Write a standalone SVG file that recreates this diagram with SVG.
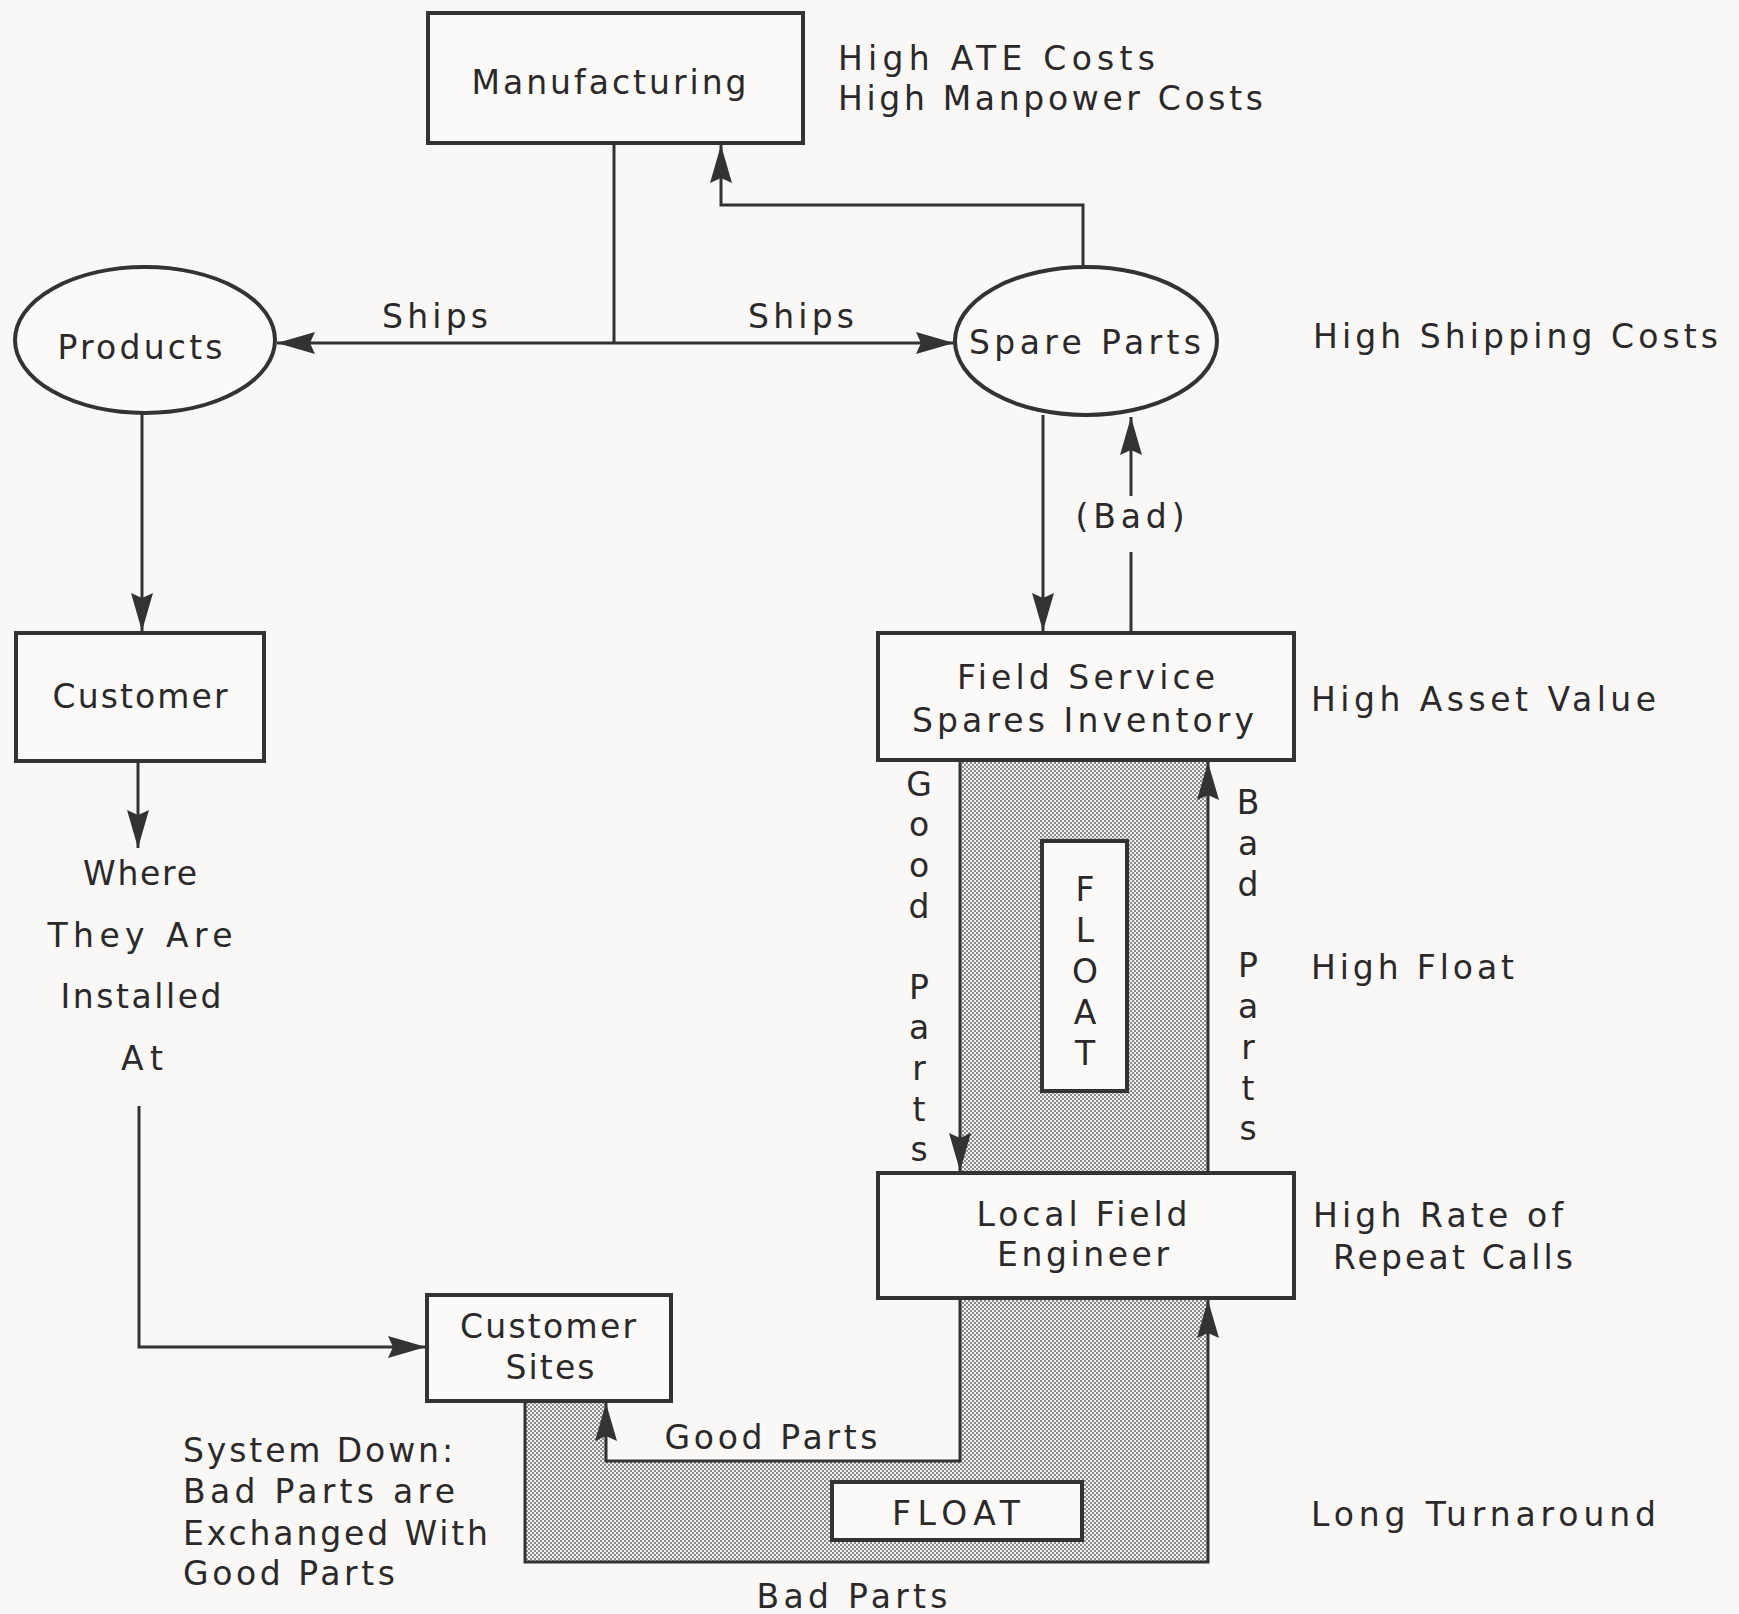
<svg xmlns="http://www.w3.org/2000/svg" width="1739" height="1614" viewBox="0 0 1739 1614">
<defs>
<style>
.t{font-family:"DejaVu Sans","Liberation Sans",sans-serif;font-size:33px;fill:#2b2929;}
.m{text-anchor:middle;}
.box{fill:#fbfaf8;stroke:#353232;stroke-width:4;}
.con{fill:none;stroke:#353232;stroke-width:3;}
</style>
<pattern id="dots" width="4" height="4" patternUnits="userSpaceOnUse">
<rect width="4" height="4" fill="#f2f1ef"/>
<circle cx="1" cy="1" r="1" fill="#6a6868"/>
<circle cx="3" cy="3" r="1" fill="#6a6868"/>
</pattern>
<marker id="arr" markerUnits="userSpaceOnUse" markerWidth="40" markerHeight="24" refX="38" refY="12" orient="auto">
<path d="M0,1 L38,12 L0,23 L5,12 z" fill="#353232"/>
</marker>
</defs>
<rect width="1739" height="1614" fill="#f9f8f6"/>

<g id="shading">
<rect x="960" y="760" width="248" height="413" fill="url(#dots)"/>
<polygon points="525,1401 606,1401 606,1461 960,1461 960,1298 1208,1298 1208,1562 525,1562" fill="url(#dots)"/>
</g>

<g id="manufacturing">
<rect class="box" x="428" y="13" width="375" height="130"/>
<text class="t m" x="609" y="94" textLength="275" lengthAdjust="spacing">Manufacturing</text>
</g>
<g id="products">
<ellipse class="box" cx="145" cy="340" rx="130" ry="73"/>
<text class="t m" x="140" y="359" textLength="165" lengthAdjust="spacing">Products</text>
</g>
<g id="spare-parts">
<ellipse class="box" cx="1086" cy="341" rx="131" ry="74"/>
<text class="t m" x="1085" y="354" textLength="232" lengthAdjust="spacing">Spare Parts</text>
</g>
<g id="customer">
<rect class="box" x="16" y="633" width="248" height="128"/>
<text class="t m" x="140" y="708" textLength="175" lengthAdjust="spacing">Customer</text>
</g>
<g id="field-service">
<rect class="box" x="878" y="633" width="416" height="127"/>
<text class="t m" x="1086" y="689" textLength="258" lengthAdjust="spacing">Field Service</text>
<text class="t m" x="1083" y="732" textLength="342" lengthAdjust="spacing">Spares Inventory</text>
</g>
<g id="float-vertical">
<rect class="box" x="1042" y="841" width="85" height="250"/>
<text class="t m" x="1085" y="901">F</text>
<text class="t m" x="1085" y="942">L</text>
<text class="t m" x="1085" y="983">O</text>
<text class="t m" x="1085" y="1024">A</text>
<text class="t m" x="1085" y="1065">T</text>
</g>
<g id="local-field-engineer">
<rect class="box" x="878" y="1173" width="416" height="125"/>
<text class="t m" x="1082" y="1226" textLength="211" lengthAdjust="spacing">Local Field</text>
<text class="t m" x="1083" y="1266" textLength="172" lengthAdjust="spacing">Engineer</text>
</g>
<g id="customer-sites">
<rect class="box" x="427" y="1295" width="244" height="106"/>
<text class="t m" x="548" y="1338" textLength="176" lengthAdjust="spacing">Customer</text>
<text class="t m" x="550" y="1379" textLength="89" lengthAdjust="spacing">Sites</text>
</g>
<g id="float-horizontal">
<rect class="box" x="832" y="1482" width="250" height="58"/>
<text class="t m" x="956" y="1525" textLength="128" lengthAdjust="spacing">FLOAT</text>
</g>

<g id="connectors">
<path class="con" d="M614,143 V343"/>
<path class="con" d="M614,343 H277" marker-end="url(#arr)"/>
<path class="con" d="M614,343 H954" marker-end="url(#arr)"/>
<path class="con" d="M1083,267 V205 H721 V145" marker-end="url(#arr)"/>
<path class="con" d="M142,413 V631" marker-end="url(#arr)"/>
<path class="con" d="M138,761 V848" marker-end="url(#arr)"/>
<path class="con" d="M139,1106 V1347 H426" marker-end="url(#arr)"/>
<path class="con" d="M1043,415 V631" marker-end="url(#arr)"/>
<path class="con" d="M1131,633 V552"/>
<path class="con" d="M1131,496 V417" marker-end="url(#arr)"/>
<path class="con" d="M960,760 V1171" marker-end="url(#arr)"/>
<path class="con" d="M1208,1173 V762" marker-end="url(#arr)"/>
<path class="con" d="M960,1298 V1461 H606 V1403" marker-end="url(#arr)"/>
<path class="con" d="M525,1401 V1562 H1208 V1300" marker-end="url(#arr)"/>
</g>

<g id="labels">
<text class="t m" x="435" y="328" textLength="106" lengthAdjust="spacing">Ships</text>
<text class="t m" x="801" y="328" textLength="106" lengthAdjust="spacing">Ships</text>
<text class="t m" x="1130" y="528" textLength="109" lengthAdjust="spacing">(Bad)</text>
<text class="t m" x="140" y="885" textLength="114" lengthAdjust="spacing">Where</text>
<text class="t m" x="140" y="947" textLength="185" lengthAdjust="spacing">They Are</text>
<text class="t m" x="141" y="1008" textLength="161" lengthAdjust="spacing">Installed</text>
<text class="t m" x="142" y="1070" textLength="42" lengthAdjust="spacing">At</text>
<text class="t m" x="919" y="796">G</text>
<text class="t m" x="919" y="836">o</text>
<text class="t m" x="919" y="877">o</text>
<text class="t m" x="919" y="918">d</text>
<text class="t m" x="919" y="999">P</text>
<text class="t m" x="919" y="1039">a</text>
<text class="t m" x="919" y="1080">r</text>
<text class="t m" x="919" y="1121">t</text>
<text class="t m" x="919" y="1161">s</text>
<text class="t m" x="1248" y="814">B</text>
<text class="t m" x="1248" y="855">a</text>
<text class="t m" x="1248" y="896">d</text>
<text class="t m" x="1248" y="977">P</text>
<text class="t m" x="1248" y="1018">a</text>
<text class="t m" x="1248" y="1059">r</text>
<text class="t m" x="1248" y="1100">t</text>
<text class="t m" x="1248" y="1140">s</text>
<text class="t m" x="771" y="1449" textLength="213" lengthAdjust="spacing">Good Parts</text>
<text class="t m" x="852" y="1608" textLength="191" lengthAdjust="spacing">Bad Parts</text>
<text class="t" x="183" y="1462" textLength="270" lengthAdjust="spacing">System Down:</text>
<text class="t" x="183" y="1503" textLength="272" lengthAdjust="spacing">Bad Parts are</text>
<text class="t" x="183" y="1545" textLength="305" lengthAdjust="spacing">Exchanged With</text>
<text class="t" x="183" y="1585" textLength="212" lengthAdjust="spacing">Good Parts</text>
<text class="t" x="838" y="70" textLength="317" lengthAdjust="spacing">High ATE Costs</text>
<text class="t" x="838" y="110" textLength="425" lengthAdjust="spacing">High Manpower Costs</text>
<text class="t" x="1313" y="348" textLength="405" lengthAdjust="spacing">High Shipping Costs</text>
<text class="t" x="1311" y="711" textLength="345" lengthAdjust="spacing">High Asset Value</text>
<text class="t" x="1311" y="979" textLength="203" lengthAdjust="spacing">High Float</text>
<text class="t" x="1313" y="1227" textLength="250" lengthAdjust="spacing">High Rate of</text>
<text class="t" x="1333" y="1269" textLength="240" lengthAdjust="spacing">Repeat Calls</text>
<text class="t" x="1311" y="1526" textLength="345" lengthAdjust="spacing">Long Turnaround</text>
</g>
</svg>
